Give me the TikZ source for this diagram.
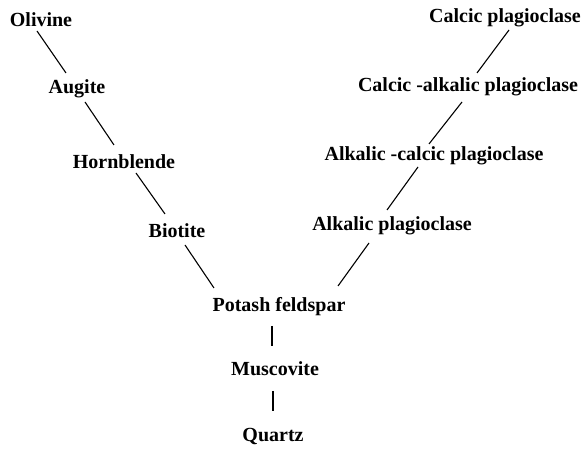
\documentclass[tikz,border=0pt]{standalone}
\usepackage{fontspec}
\setmainfont{Liberation Serif}
\begin{document}
\begin{tikzpicture}[x=0.5pt,y=-0.5pt,
  mineral/.style={font=\fontsize{10}{12}\selectfont\bfseries, inner sep=0pt, anchor=base},
  link/.style={line width=0.55pt, black}]
\useasboundingbox (0,0) rectangle (586,449);
% discontinuous (mafic) branch
\node[mineral] (olivine)    at (41,27)  {Olivine};
\node[mineral] (augite)     at (77,94)  {Augite};
\node[mineral] (hornblende) at (124,169) {Hornblende};
\node[mineral] (biotite)    at (177,238) {Biotite};
% continuous (plagioclase) branch
\node[mineral] (calcic)     at (505,23)  {Calcic plagioclase};
\node[mineral] (calcalk)    at (468,92)  {Calcic -alkalic plagioclase};
\node[mineral] (alkcalc)    at (434,161) {Alkalic -calcic plagioclase};
\node[mineral] (alkalic)    at (392,231) {Alkalic plagioclase};
% common trunk
\node[mineral] (potash)     at (279,312) {Potash feldspar};
\node[mineral] (muscovite)  at (275,376) {Muscovite};
\node[mineral] (quartz)     at (273,442) {Quartz};

\draw[link] ([shift={(-4,4)}]olivine.base)   -- ([shift={(-11,-21)}]augite.base);
\draw[link] ([shift={(8,8)}]augite.base)     -- ([shift={(-10,-24)}]hornblende.base);
\draw[link] ([shift={(12,4)}]hornblende.base) -- ([shift={(-12,-24)}]biotite.base);
\draw[link] ([shift={(8,7)}]biotite.base)    -- ([shift={(-65,-24)}]potash.base);

\draw[link] ([shift={(4,7)}]calcic.base)     -- ([shift={(9,-19)}]calcalk.base);
\draw[link] ([shift={(-6,10)}]calcalk.base)  -- ([shift={(-5,-17)}]alkcalc.base);
\draw[link] ([shift={(-16,6)}]alkcalc.base)  -- ([shift={(-5,-21)}]alkalic.base);
\draw[link] ([shift={(-23,12)}]alkalic.base) -- ([shift={(59,-26)}]potash.base);

\draw[link] ([shift={(-7,14)}]potash.base)   -- ([shift={(-3,-30)}]muscovite.base);
\draw[link] ([shift={(-2,15)}]muscovite.base) -- ([shift={(0,-31)}]quartz.base);
\end{tikzpicture}
\end{document}
